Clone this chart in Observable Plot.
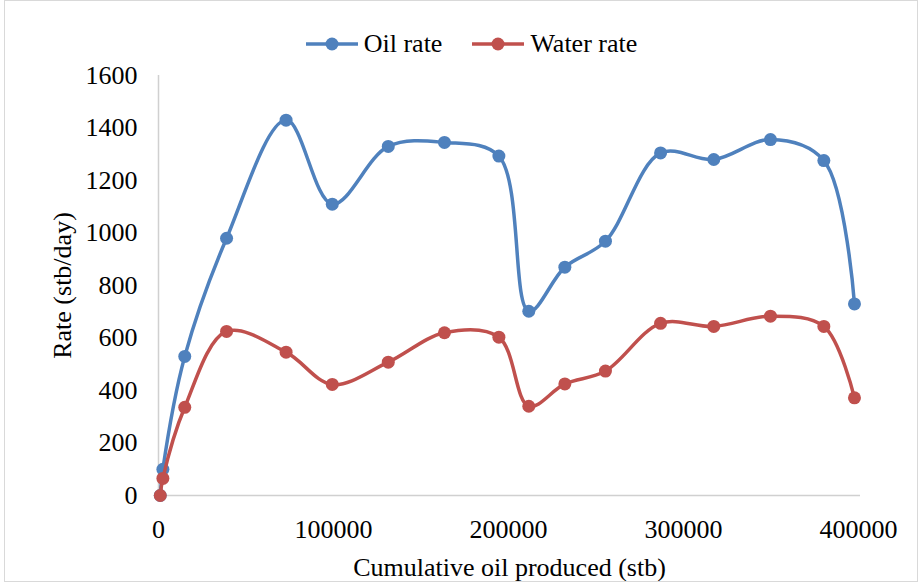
<!DOCTYPE html>
<html>
<head>
<meta charset="utf-8">
<script src="https://cdn.jsdelivr.net/npm/d3@7"></script>
<script src="https://cdn.jsdelivr.net/npm/@observablehq/plot@0.6"></script>
<style>
  html, body { margin: 0; padding: 0; background: #fff; }
  #wrap { position: relative; width: 921px; height: 584px; overflow: hidden; font-family: "Liberation Serif", "Times New Roman", "DejaVu Serif", serif; }
  #frame { position: absolute; left: 4px; top: 0px; width: 914px; height: 582px; border: 1px solid #d9d9d9; box-sizing: border-box; pointer-events: none; }
  #legend { position: relative; height: 60px; display: flex; justify-content: center; align-items: center; gap: 30px; font-size: 26px; color: #000; padding-top: 28px; box-sizing: border-box; padding-left: 22px; font-family: "Liberation Serif", "Times New Roman", serif; }
  #legend .item { display: flex; align-items: center; gap: 6px; }
  #chart svg { display: block; }
  #chart svg text, #chart svg g[aria-label$="tick label"] { font-family: "Liberation Serif", "Times New Roman", serif !important; font-variant: normal !important; }
</style>
</head>
<body>
<div id="wrap">
  <div id="frame"></div>
  <div id="legend"></div>
  <div id="chart"></div>
</div>
<script>
// Cumulative oil produced (stb)
const cumOil = [1000, 2500, 15000, 38900, 72900, 99300, 131300, 163400, 194500, 211600, 232200, 255400, 286900, 317300, 349700, 380200, 397700];
// Oil rate (stb/day)
const oilRate = [0, 100, 530, 980, 1430, 1110, 1330, 1345, 1293, 702, 870, 969, 1305, 1280, 1356, 1276, 730];
// Water rate (stb/day)
const waterRate = [0, 65, 336, 625, 546, 423, 508, 620, 603, 340, 425, 474, 656, 644, 683, 644, 372];

const seriesNames = ["Oil rate", "Water rate"];
const seriesColors = ["#4F81BD", "#C0504D"];
const xTicks = [0, 100000, 200000, 300000, 400000];
const yTicks = [0, 200, 400, 600, 800, 1000, 1200, 1400, 1600];

const rows = [];
cumOil.forEach((c, i) => {
  rows.push({series: seriesNames[0], x: c, y: oilRate[i]});
  rows.push({series: seriesNames[1], x: c, y: waterRate[i]});
});
const oilRows = rows.filter(d => d.series === seriesNames[0]);
const waterRows = rows.filter(d => d.series === seriesNames[1]);

// legend
const legend = document.getElementById("legend");
seriesNames.forEach((name, i) => {
  const item = document.createElement("div");
  item.className = "item";
  const ns = "http://www.w3.org/2000/svg";
  const s = document.createElementNS(ns, "svg");
  s.setAttribute("width", 52); s.setAttribute("height", 16);
  const ln = document.createElementNS(ns, "line");
  ln.setAttribute("x1", 0); ln.setAttribute("x2", 52); ln.setAttribute("y1", 8); ln.setAttribute("y2", 8);
  ln.setAttribute("stroke", seriesColors[i]); ln.setAttribute("stroke-width", 3.5);
  const c = document.createElementNS(ns, "circle");
  c.setAttribute("cx", 26); c.setAttribute("cy", 8); c.setAttribute("r", 6.5);
  c.setAttribute("fill", seriesColors[i]);
  s.appendChild(ln); s.appendChild(c);
  const t = document.createElement("span");
  t.textContent = name;
  item.appendChild(s); item.appendChild(t);
  legend.appendChild(item);
});

const plot = Plot.plot({
  width: 921,
  height: 524,
  marginTop: 15,
  marginBottom: 89,
  marginLeft: 158,
  marginRight: 61,
  style: { fontFamily: "Liberation Serif, Times New Roman, serif", fontSize: "26px", color: "#000", background: "#fff" },
  x: { domain: [0, 400000], range: [158, 858] },
  y: { domain: [0, 1600] },
  color: { domain: seriesNames, range: seriesColors },
  marks: [
    Plot.ruleY([0], { stroke: "#d0d0d0", strokeWidth: 1.5 }),
    Plot.ruleX([0], { stroke: "#d0d0d0", strokeWidth: 1.5 }),
    Plot.axisX({ ticks: xTicks, tickFormat: d => String(d), tickSize: 0, tickPadding: 24, fontSize: 26, fontVariant: "normal",
       label: "Cumulative oil produced (stb)", labelAnchor: "center", labelOffset: 80, labelArrow: "none" }),
    Plot.axisY({ ticks: yTicks, tickFormat: d => String(d), tickSize: 0, tickPadding: 21, fontSize: 26, fontVariant: "normal",
       label: "Rate (stb/day)", labelAnchor: "center", labelOffset: 106, labelArrow: "none" }),
    Plot.line(oilRows, { x: "x", y: "y", stroke: "series", strokeWidth: 3.5, curve: "catmull-rom" }),
    Plot.dot(oilRows, { x: "x", y: "y", fill: "series", r: 6.5 }),
    Plot.line(waterRows, { x: "x", y: "y", stroke: "series", strokeWidth: 3.5, curve: "catmull-rom" }),
    Plot.dot(waterRows, { x: "x", y: "y", fill: "series", r: 6.5 })
  ]
});
document.getElementById("chart").appendChild(plot);
</script>
</body>
</html>
